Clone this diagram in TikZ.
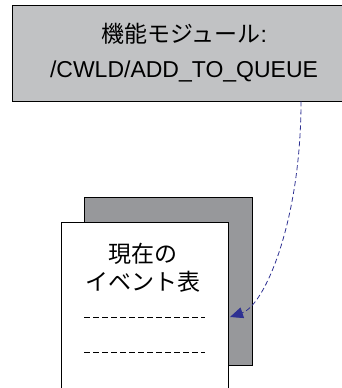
\documentclass[tikz,border=0pt]{standalone}
\usepackage{fontspec}
\setmainfont{Liberation Sans}
\newfontfamily\jpfont{Noto Sans CJK JP}
\usepackage{xcolor}
\usetikzlibrary{positioning,calc,arrows.meta}
\definecolor{modgray}{HTML}{C1C2C4}
\definecolor{sheetgray}{HTML}{97989B}
\definecolor{linkblue}{HTML}{2E3192}

\begin{document}
\begin{tikzpicture}[x=1pt, y=-1pt,
        modbox/.style={draw, line width=0.8pt, fill=modgray, minimum width=344pt, minimum height=96pt, inner sep=0pt, align=center, font=\fontsize{23}{35}\selectfont},
        sheet/.style={draw, line width=0.8pt, anchor=north west, inner sep=0pt},
        rowline/.style={line width=0.7pt, dash pattern=on 6pt off 3pt},
        link/.style={linkblue, line width=0.8pt, dash pattern=on 5pt off 3pt, -{Triangle[length=13pt, width=11pt]}}]
        \clip (0,0) rectangle (342,388);

        % Funktionsbaustein
        \node[modbox] (module) at (184,53) {{\jpfont 機能モジュール}:\\/CWLD/ADD\_TO\_QUEUE};

        % Tabellenblaetter
        \node[sheet, fill=sheetgray, minimum width=168pt, minimum height=168pt] (back) at (84,197) {};
        \node[sheet, fill=white, minimum width=167pt, minimum height=200pt] (front) at (61,222) {};
        \node[align=center, font=\jpfont\fontsize{23}{28}\selectfont] (title) at (143,268) {現在の\\イベント表};
        \draw[rowline] (84,317) -- (205,317);
        \draw[rowline] (84,352) -- (205,352);

        % Verbindung
        \coordinate (tip) at (230,317);
        \draw[link] ([xshift=117pt]module.south) .. controls ++(0,119) and (265,305) .. (tip);
    \end{tikzpicture}
\end{document}
